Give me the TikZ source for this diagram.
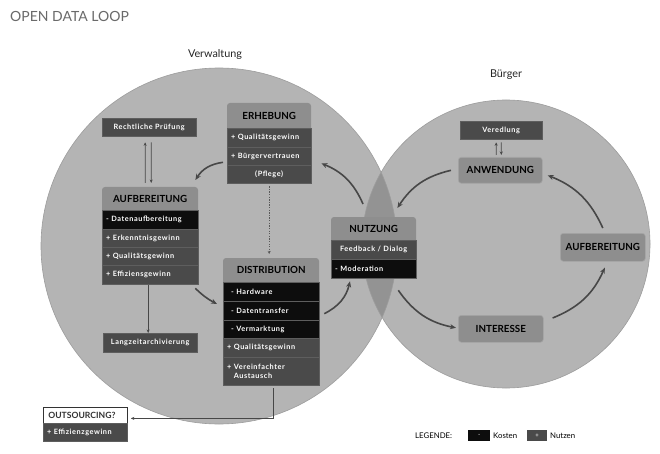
\documentclass[tikz,border=0pt]{standalone}
\usepackage{fontspec}
\setmainfont{Lato}
\newfontfamily\rowfont[LetterSpace=8]{Lato}
\usetikzlibrary{arrows.meta,calc}
\definecolor{circ}{HTML}{B4B4B4}
\definecolor{lens}{HTML}{939393}
\definecolor{circline}{HTML}{9C9C9C}
\definecolor{hdr}{HTML}{8E8E8E}
\definecolor{hdrline}{HTML}{A6A6A6}
\definecolor{rowd}{HTML}{4A4A4A}
\definecolor{rowk}{HTML}{0D0D0D}
\definecolor{sepc}{HTML}{5E5E5E}
\definecolor{arr}{HTML}{474747}
\definecolor{titlec}{HTML}{6A6A6A}
\begin{document}
\begin{tikzpicture}[x=1pt,y=-1pt,
  hdrtext/.style={anchor=north west, inner sep=0pt, font=\bfseries\fontsize{9.8}{11}\selectfont, text=black, align=center},
  row/.style={anchor=north west, inner xsep=4pt, inner ysep=0pt, fill=rowd, text=white, draw=sepc, line width=0.3pt,
     font=\rowfont\bfseries\fontsize{7.3}{9}\selectfont, align=left},
  krow/.style={row, fill=rowk},
  gbox/.style={anchor=north west, inner sep=0pt, fill=hdr, draw=hdrline, line width=0.6pt, rounded corners=3pt,
     font=\bfseries\fontsize{9.8}{11}\selectfont, text=black, align=center},
  bigarr/.style={draw=arr, line width=1.6pt, -{Stealth[length=6pt,width=5pt]}},
  thinarr/.style={draw=arr, line width=0.7pt, -{Stealth[length=3.5pt,width=3pt]}},
  dotarr/.style={draw=arr!90, line width=1.3pt, dash pattern=on 1.3pt off 1.3pt, -{Stealth[length=3pt,width=3pt]}},
  lbl/.style={inner sep=0pt, text=black!85, font=\fontsize{10.8}{12}\selectfont},
  leg/.style={inner sep=0pt, text=black, font=\fontsize{7.8}{9}\selectfont}
]
\useasboundingbox (0,0) rectangle (660,454);
\fill[white] (0,0) rectangle (660,454);

% circles
\fill[circ] (219,246) circle[radius=178];
\fill[circ] (506,244) circle[radius=144];
\begin{scope}
  \clip (219,246) circle[radius=178];
  \fill[lens] (506,244) circle[radius=144];
\end{scope}
\draw[circline, line width=0.6pt] (219,246) circle[radius=178];
\draw[circline, line width=0.6pt] (506,244) circle[radius=144];

% title and labels
\node[anchor=west, inner sep=0pt, text=titlec, font=\fontsize{14}{16}\selectfont] (title) at (10,16) {OPEN DATA LOOP};
\node[lbl] (verw) at (215,55) {Verwaltung};
\node[lbl] (buerg) at (506,75) {Bürger};

% ERHEBUNG
\fill[hdr, rounded corners=3pt] (227,103) rectangle (311,183);
\node[hdrtext, minimum width=84pt, minimum height=25pt] (erhH) at (227,103) {ERHEBUNG};
\node[row, text width=76pt, minimum height=19pt] (erh1) at (227,128) {+ Qualitätsgewinn};
\node[row, text width=76pt, minimum height=18pt] (erh2) at (227,147) {+ Bürgervertrauen};
\node[row, text width=76pt, minimum height=18pt, align=center] (erh3) at (227,165) {(Pflege)};

% Rechtliche Pruefung
\node[row, text width=86pt, minimum height=18pt, align=center] (rp) at (102,118) {Rechtliche Prüfung};

% AUFBEREITUNG left
\fill[hdr, rounded corners=3pt] (102,187) rectangle (198,284);
\node[hdrtext, minimum width=96pt, minimum height=23pt] (aufH) at (102,187) {AUFBEREITUNG};
\node[krow, text width=88pt, minimum height=19pt] (auf1) at (102,210) {- Datenaufbereitung};
\node[row, text width=88pt, minimum height=18pt] (auf2) at (102,229) {+ Erkenntnisgewinn};
\node[row, text width=88pt, minimum height=18pt] (auf3) at (102,247) {+ Qualitätsgewinn};
\node[row, text width=88pt, minimum height=19pt] (auf4) at (102,265) {+ Effiziensgewinn};

% Langzeitarchivierung
\node[row, text width=86pt, minimum height=19pt, align=center] (lang) at (103,333) {Langzeitarchivierung};

% DISTRIBUTION
\fill[hdr, rounded corners=3pt] (223,258) rectangle (319,385);
\node[hdrtext, minimum width=96pt, minimum height=24pt] (distH) at (223,258) {DISTRIBUTION};
\node[krow, text width=88pt, minimum height=19pt] (dist1) at (223,282) {\hspace*{4pt}- Hardware};
\node[krow, text width=88pt, minimum height=19pt] (dist2) at (223,301) {\hspace*{4pt}- Datentransfer};
\node[krow, text width=88pt, minimum height=18pt] (dist3) at (223,320) {\hspace*{4pt}- Vermarktung};
\node[row, text width=88pt, minimum height=19pt] (dist4) at (223,338) {+ Qualitätsgewinn};
\node[row, text width=88pt, minimum height=28pt] (dist5) at (223,357) {+ Vereinfachter\\\hphantom{+ }Austausch};

% OUTSOURCING
\node[anchor=north west, inner xsep=5pt, inner ysep=0pt, fill=white, draw=black!80, line width=0.8pt,
  text width=74pt, minimum height=16pt, align=left, font=\bfseries\fontsize{8.6}{9}\selectfont, text=black!80] (outH) at (43,407) {OUTSOURCING?};
\node[row, text width=76pt, minimum height=18pt] (out1) at (43,423) {+ Effizienzgewinn};

% NUTZUNG
\fill[hdr, rounded corners=3pt] (331,217) rectangle (416,278);
\node[hdrtext, minimum width=85pt, minimum height=23pt] (nutH) at (331,217) {NUTZUNG};
\node[row, text width=77pt, minimum height=19pt, align=center] (nut1) at (331,240) {Feedback / Dialog};
\node[krow, text width=77pt, minimum height=19pt] (nut2) at (331,259) {- Moderation};

% right circle boxes
\node[row, text width=74pt, minimum height=18pt, align=center] (ver) at (460,121) {Veredlung};
\node[gbox, minimum width=84pt, minimum height=26pt] (anw) at (458,157) {ANWENDUNG};
\node[gbox, minimum width=85pt, minimum height=28pt] (aufR) at (560,233) {AUFBEREITUNG};
\node[gbox, minimum width=85pt, minimum height=27pt] (int) at (458,315) {INTERESSE};

% big curved arrows
\draw[bigarr] ($(erh2.south west)+(-4,-3)$) to[bend right=25] ($(aufH.north east)+(-3,-7)$);
\draw[bigarr] ($(auf4.south east)+(-3,4)$) to[bend right=8] ($(dist2.north west)+(-6,3)$);
\draw[bigarr] ($(dist2.east)+(5,3)$) to[bend right=25] ($(nut2.south west)+(19,3)$);
\draw[bigarr] ($(nutH.north west)+(32,-13)$) to[bend right=22] ($(erh2.south east)+(10,-2)$);
\draw[bigarr] ($(anw.west)+(-7,0)$) to[bend right=22] ($(nutH.north east)+(-19,-9)$);
\draw[bigarr] ($(nut2.south east)+(-18,12)$) to[bend right=22] ($(int.west)+(-2,-1)$);
\draw[bigarr] ($(int.north east)+(9,3)$) to[bend right=22] ($(aufR.south)+(2,6)$);
\draw[bigarr] ($(aufR.north)+(0,-5)$) to[bend right=22] ($(anw.east)+(5,5)$);

% thin arrows
\draw[thinarr] ($(aufH.north)+(-5,-4)$) -- ($(rp.south)+(-4,6)$);
\draw[thinarr] ($(rp.south)+(2,6)$) -- ($(aufH.north)+(1,-4)$);
\draw[thinarr] ($(anw.north)+(-4,-2)$) -- ($(ver.south)+(-5,3)$);
\draw[thinarr] ($(ver.south)+(0,3)$) -- ($(anw.north)+(1,-2)$);
\draw[thinarr] ($(auf4.south)+(-2,1)$) -- ($(lang.north)+(-2,0)$);
\draw[thinarr] ($(dist5.south)+(2,3)$) |- ($(outH.east)+(3,3)$);
\draw[dotarr] ($(erh3.south)+(0,3)$) -- ($(erh3.south |- distH.north)+(0,-4)$);

% legend
\node[leg, anchor=west] (legende) at (415,436) {LEGENDE:};
\node[anchor=north west, fill=rowk, minimum width=22pt, minimum height=11pt, inner sep=0pt, text=white, font=\fontsize{6}{7}\selectfont] (legk) at (468,430) {-};
\node[leg, anchor=west] (kosten) at (493,435.5) {Kosten};
\node[anchor=north west, fill=rowd, minimum width=20pt, minimum height=11pt, inner sep=0pt, text=white, font=\fontsize{6}{7}\selectfont] (legn) at (527,430) {+};
\node[leg, anchor=west] (nutzen) at (550,435.5) {Nutzen};
\end{tikzpicture}
\end{document}
